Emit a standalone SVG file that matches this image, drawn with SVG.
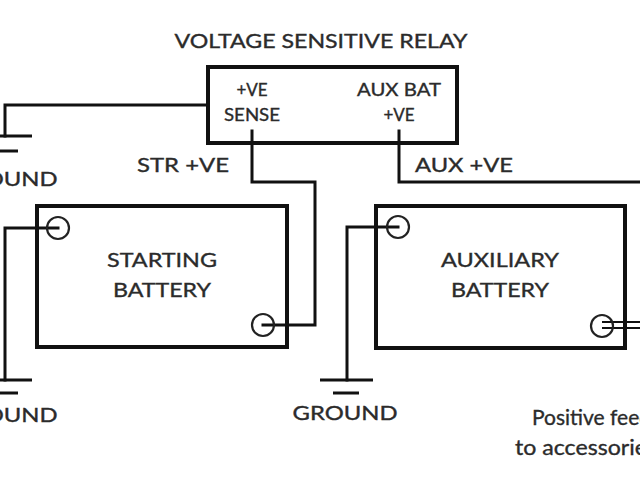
<svg xmlns="http://www.w3.org/2000/svg" width="640" height="480" viewBox="0 0 640 480">
<style>
.t{font-family:Lato,"Liberation Sans",sans-serif;fill:#2b2b2b;stroke:#2b2b2b;stroke-width:0.35}
.s17{font-size:17px}
.s19{font-size:19px}
.s20{font-size:20px}
.s21{font-size:21px}
.m{text-anchor:middle}
.w{fill:none;stroke:#111;stroke-width:3;stroke-linecap:square;stroke-linejoin:miter}
.box{fill:none;stroke:#111;stroke-width:4}
.term{fill:none;stroke:#222;stroke-width:2.2}
</style>
<rect width="640" height="480" fill="#fff"/>
<g id="connectors">
<polyline class="w" points="208,105 5,105 5,136"/>
<polyline class="w" points="252,131 252,182 315,182 315,325 263,325"/>
<polyline class="w" points="399,131 399,182 642,182"/>
<polyline class="w" points="58,228 5,228 5,380"/>
<polyline class="w" points="398,227 347,227 347,380"/>
<line x1="602" y1="322" x2="642" y2="322" stroke="#111" stroke-width="2.2"/>
<line x1="602" y1="328" x2="642" y2="328" stroke="#111" stroke-width="2.2"/>
</g>
<g id="ground-top-left">
<line x1="-21" y1="136" x2="32" y2="136" stroke="#111" stroke-width="3"/>
<line x1="-8" y1="151" x2="18" y2="151" stroke="#111" stroke-width="3"/>
<text class="t s19 m" x="5" y="186" textLength="105" lengthAdjust="spacingAndGlyphs">GROUND</text>
</g>
<g id="ground-bottom-left">
<line x1="-21" y1="380" x2="32" y2="380" stroke="#111" stroke-width="3"/>
<line x1="-8" y1="393" x2="18" y2="393" stroke="#111" stroke-width="3"/>
<text class="t s19 m" x="5" y="422" textLength="105" lengthAdjust="spacingAndGlyphs">GROUND</text>
</g>
<g id="ground-aux">
<line x1="320" y1="380" x2="373" y2="380" stroke="#111" stroke-width="3"/>
<line x1="333" y1="393" x2="359" y2="393" stroke="#111" stroke-width="3"/>
<text class="t s19 m" x="345" y="420" textLength="105" lengthAdjust="spacingAndGlyphs">GROUND</text>
</g>
<g id="relay">
<text class="t s19 m" x="321" y="48" textLength="293" lengthAdjust="spacingAndGlyphs">VOLTAGE SENSITIVE RELAY</text>
<rect class="box" x="208" y="67" width="249" height="76" stroke-width="3.5"/>
<text class="t s17 m" x="252" y="96">+VE</text>
<text class="t s17 m" x="252" y="121" textLength="56" lengthAdjust="spacingAndGlyphs">SENSE</text>
<text class="t s17 m" x="399" y="96" textLength="84" lengthAdjust="spacingAndGlyphs">AUX BAT</text>
<text class="t s17 m" x="399" y="121">+VE</text>
</g>
<g id="labels">
<text class="t s19" x="137" y="172" textLength="92" lengthAdjust="spacingAndGlyphs">STR +VE</text>
<text class="t s19" x="415" y="172" textLength="98" lengthAdjust="spacingAndGlyphs">AUX +VE</text>
<text class="t s21" x="532" y="425" textLength="119" lengthAdjust="spacingAndGlyphs">Positive feed</text>
<text class="t s21" x="515" y="455" textLength="142" lengthAdjust="spacingAndGlyphs">to accessories</text>
</g>
<g id="starting-battery">
<rect class="box" x="37" y="206" width="250" height="141"/>
<circle class="term" cx="58" cy="228" r="11"/>
<circle class="term" cx="263" cy="325" r="11"/>
<text class="t s20 m" x="162" y="267" textLength="110" lengthAdjust="spacingAndGlyphs">STARTING</text>
<text class="t s20 m" x="162" y="297" textLength="98" lengthAdjust="spacingAndGlyphs">BATTERY</text>
</g>
<g id="auxiliary-battery">
<rect class="box" x="376" y="206" width="249" height="142"/>
<circle class="term" cx="398" cy="227" r="11"/>
<circle class="term" cx="602" cy="326" r="11"/>
<text class="t s20 m" x="500" y="267" textLength="118" lengthAdjust="spacingAndGlyphs">AUXILIARY</text>
<text class="t s20 m" x="500" y="297" textLength="98" lengthAdjust="spacingAndGlyphs">BATTERY</text>
</g>
</svg>
